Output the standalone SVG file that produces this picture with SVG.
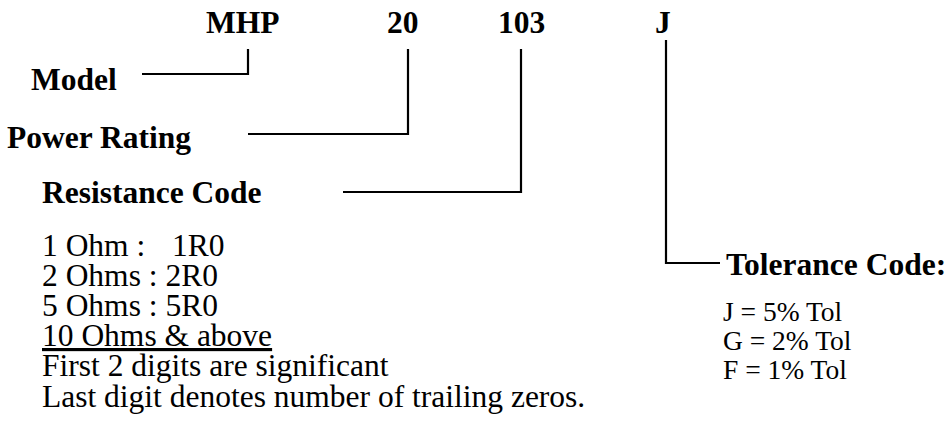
<svg xmlns="http://www.w3.org/2000/svg" width="948" height="423" viewBox="0 0 948 423">
<style>
.b{font-family:"Liberation Serif","Times New Roman",serif;font-weight:bold;font-size:31.5px;fill:#000}
.t{font-family:"Liberation Serif","Times New Roman",serif;font-size:31.5px;fill:#000}
.s{font-family:"Liberation Serif","Times New Roman",serif;font-size:27.5px;fill:#000}
.c{fill:none;stroke:#000;stroke-width:2.2}
</style>
<rect width="948" height="423" fill="#fff"/>
<g id="code-mhp"><text class="b" x="206" y="33">MHP</text></g>
<g id="code-20"><text class="b" x="387" y="33">20</text></g>
<g id="code-103"><text class="b" x="498" y="33">103</text></g>
<g id="code-j"><text class="b" x="655" y="33">J</text></g>
<g id="model"><text class="b" x="31" y="90">Model</text></g>
<g id="power-rating"><text class="b" x="7" y="148">Power Rating</text></g>
<g id="resistance-code">
<text class="b" x="42" y="203">Resistance Code</text>
<text class="t" x="42" y="256">1 Ohm :<tspan x="172">1R0</tspan></text>
<text class="t" x="42" y="286">2 Ohms : 2R0</text>
<text class="t" x="42" y="316">5 Ohms : 5R0</text>
<text class="t" x="42" y="346" text-decoration="underline">10 Ohms &amp; above</text>
<text class="t" x="42" y="376">First 2 digits are significant</text>
<text class="t" x="42" y="407">Last digit denotes number of trailing zeros.</text>
</g>
<g id="tolerance-code">
<text class="b" x="726" y="275">Tolerance Code:</text>
<text class="s" x="723" y="321">J = 5% Tol</text>
<text class="s" x="723" y="350">G = 2% Tol</text>
<text class="s" x="723" y="379">F = 1% Tol</text>
</g>
<g id="connectors">
<polyline class="c" points="142,74 248,74 248,49"/>
<polyline class="c" points="248,134 408,134 408,49"/>
<polyline class="c" points="343,192 521,192 521,49"/>
<polyline class="c" points="666,40 666,263 720,263"/>
</g>
</svg>
